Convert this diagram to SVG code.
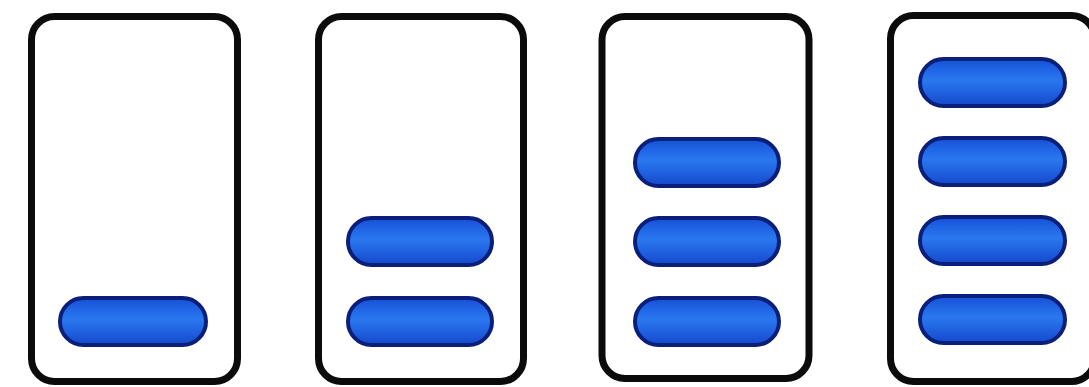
<svg xmlns="http://www.w3.org/2000/svg" width="1089" height="387" viewBox="0 0 1089 387">
<defs>
<linearGradient id="pillFill" x1="0" y1="0" x2="0" y2="1">
<stop offset="0" stop-color="#1550d8"/>
<stop offset="0.45" stop-color="#2a78f0"/>
<stop offset="1" stop-color="#1448cc"/>
</linearGradient>
<style>
.box{fill:#ffffff;stroke:#0b0b0b;stroke-width:7}
.pill{fill:url(#pillFill);stroke:#0a1f7a;stroke-width:4}
</style>
</defs>
<rect width="1089" height="387" fill="#ffffff"/>
<g id="tube1">
<rect class="box" x="31.5" y="16.5" width="206" height="365" rx="23"/>
<rect class="pill" x="60" y="298" width="146" height="47" rx="23.5"/>
</g>
<g id="tube2">
<rect class="box" x="318.5" y="16.5" width="205" height="365" rx="23"/>
<rect class="pill" x="348" y="218" width="144" height="47" rx="23.5"/>
<rect class="pill" x="348" y="298" width="144" height="47" rx="23.5"/>
</g>
<g id="tube3">
<rect class="box" x="602" y="16.5" width="207" height="362" rx="23"/>
<rect class="pill" x="635" y="139" width="144" height="47" rx="23.5"/>
<rect class="pill" x="635" y="218" width="144" height="47" rx="23.5"/>
<rect class="pill" x="635" y="298" width="144" height="47" rx="23.5"/>
</g>
<g id="tube4">
<rect class="box" x="890.5" y="15.5" width="204" height="366" rx="23"/>
<rect class="pill" x="920" y="59" width="145" height="47" rx="23.5"/>
<rect class="pill" x="920" y="138" width="145" height="47" rx="23.5"/>
<rect class="pill" x="920" y="217" width="145" height="47" rx="23.5"/>
<rect class="pill" x="920" y="296" width="145" height="47" rx="23.5"/>
</g>
</svg>
